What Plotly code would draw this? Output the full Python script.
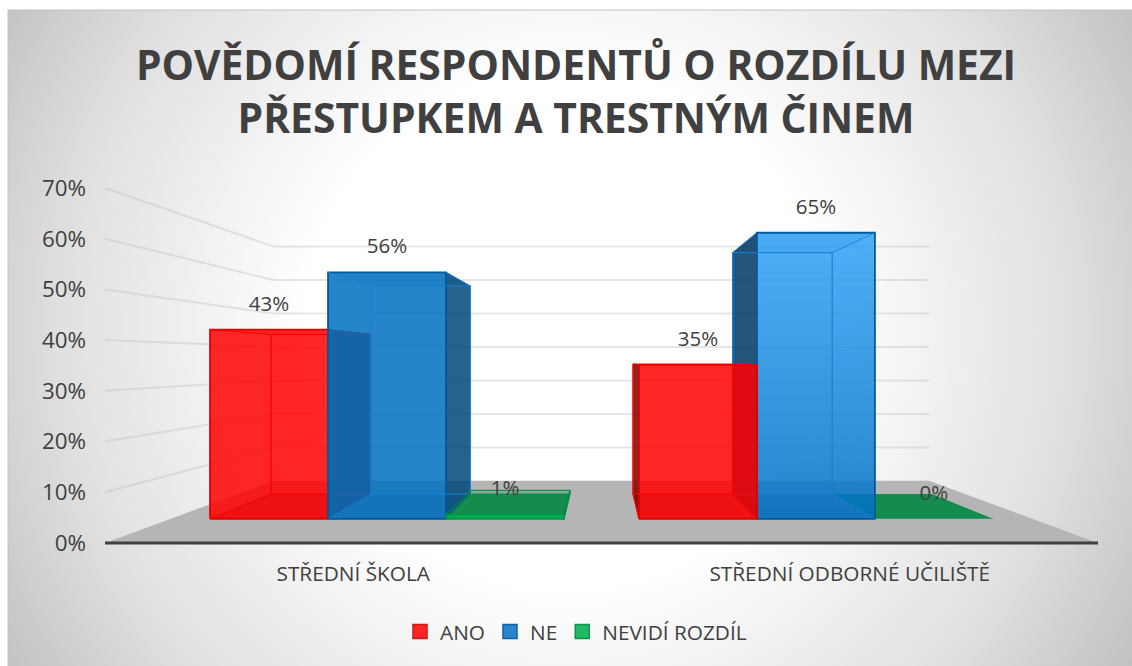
import base64
import plotly.graph_objects as go

# ---- data ----
categories = ["STŘEDNÍ ŠKOLA", "STŘEDNÍ ODBORNÉ UČILIŠTĚ"]
ano = [43, 35]
ne = [56, 65]
nevidi = [1, 0]
series_names = ["ANO", "NE", "NEVIDÍ ROZDÍL"]
y_ticks = [0, 10, 20, 30, 40, 50, 60, 70]
title_lines = ["POVĚDOMÍ RESPONDENTŮ O ROZDÍLU MEZI", "PŘESTUPKEM A TRESTNÝM ČINEM"]

# ---- perspective model (category units on x, percent on y) ----
CX, VY = 1.0, 36.0          # vanishing point
S_BACK = 0.66               # scale of the back wall
S_BAR_F, S_BAR_B = 0.868, 0.7326   # scale of bars' front / back plane
BAR_W = 0.2738              # width of one bar in category units
GAPS = [0.0917, 0.0868]     # gap at the category's left edge
LABEL_LIFT = 4.75           # data label centre above the bar's front top edge
Y_MIN = -1                  # small room below 0 so the axis line is not clipped


def proj(u, v, s):
    return CX + s * (u - CX), VY + s * (v - VY)


def poly(points):
    xs, ys = zip(*points)
    return list(xs) + [xs[0]], list(ys) + [ys[0]]


STYLE = {
    "ANO": dict(front="rgba(255,0,0,0.85)", back="rgba(255,0,0,0.02)", bottom="rgba(200,0,0,0.30)",
                side="rgba(120,0,0,0.85)", top="rgba(255,0,0,0.05)", edge="rgba(225,0,0,1)",
                inner="rgba(250,0,0,0.95)", shade="rgba(170,0,0,0.09)"),
    "NE": dict(front="rgba(0,112,192,0.85)", back="rgba(0,112,192,0.02)", bottom="rgba(0,80,160,0.20)",
               side="rgba(0,55,100,0.85)", top="rgba(0,70,130,0.15)", edge="rgba(0,88,155,1)",
               inner="rgba(20,130,215,0.85)", shade="rgba(0,70,140,0.06)"),
    "NEVIDÍ ROZDÍL": dict(front="rgba(0,176,80,0.85)", back="rgba(0,135,65,0.02)", bottom="rgba(0,135,65,0.85)",
                          side="rgba(0,110,55,0.85)", top="rgba(0,135,65,0.25)", edge="rgba(0,150,72,1)",
                          inner="rgba(0,140,68,0.85)", shade="rgba(0,0,0,0)"),
}
LEGEND_FILL = {"ANO": ("#ff2525", "#c81818"), "NE": ("#2a84cc", "#14609f"), "NEVIDÍ ROZDÍL": ("#22b864", "#12934c")}

fig = go.Figure()


def face(points, fill, line, width=1.3, gradient=None):
    x, y = poly(points)
    kw = dict(fillgradient=gradient) if gradient else dict(fillcolor=fill)
    fig.add_trace(go.Scatter(x=x, y=y, mode="lines", fill="toself", line=dict(color=line, width=width),
                             hoverinfo="skip", showlegend=False, **kw))


def stroke(points, color, width):
    x, y = zip(*points)
    fig.add_trace(go.Scatter(x=list(x), y=list(y), mode="lines", line=dict(color=color, width=width),
                             hoverinfo="skip", showlegend=False))


# ---- walls and floor ----
for t in y_ticks:
    bx, by = proj(0, t, S_BACK)
    ex, _ = proj(2, t, S_BACK)
    if t > 0:
        stroke([(0, t), (bx, by), (ex, by)], "rgba(190,190,190,0.38)", 2)
face([proj(0, 0, 1), proj(2, 0, 1), proj(2, 0, S_BACK), proj(0, 0, S_BACK)], "#b5b5b5", "rgba(0,0,0,0)", 0)


def bar(cat, pos, value, name, gradient=None, side=None):
    st = STYLE[name]
    u0 = cat + GAPS[cat] + pos * BAR_W
    u1 = u0 + BAR_W
    f, b = S_BAR_F, S_BAR_B
    fbl, fbr, ftl, ftr = proj(u0, 0, f), proj(u1, 0, f), proj(u0, value, f), proj(u1, value, f)
    bbl, bbr, btl, btr = proj(u0, 0, b), proj(u1, 0, b), proj(u0, value, b), proj(u1, value, b)
    face([bbl, bbr, btr, btl], st["back"], "rgba(0,0,0,0)", 0)
    face([fbl, fbr, bbr, bbl], st["bottom"], "rgba(0,0,0,0)", 0)
    face([ftl, ftr, btr, btl], st["top"], "rgba(0,0,0,0)", 0)
    # the side wall turned to the viewer is dark, the other one is seen through the front
    outer = [fbr, bbr, btr, ftr] if u1 < CX else [fbl, bbl, btl, ftl]
    face(outer, side or st["side"], st["edge"], 1.0 if value > 0 else 0)
    if value > 0:
        face([fbl, fbr, ftr, ftl], st["front"], st["edge"], 1.8, gradient)
        face([fbl, fbr, bbr, bbl], st["shade"], "rgba(0,0,0,0)", 0)
        # far edges showing through the translucent front
        stroke([btl, btr, bbr, bbl, btl], st["inner"], 1.4)
        stroke([ftl, btl], st["inner"], 1.0)
        stroke([ftr, btr], st["inner"], 1.0)
        stroke([fbl, bbl], st["inner"], 1.0)
        stroke([fbr, bbr], st["inner"], 1.0)


ne_gradient = dict(type="vertical",
                   colorscale=[[0, "rgba(0,112,195,0.85)"], [1, "rgba(50,162,246,0.85)"]])

# first category: painted red, blue, green; second: green, blue, red
vals = dict(zip(series_names, [ano, ne, nevidi]))
for i, name in enumerate(series_names):
    bar(0, i, vals[name][0], name, side="rgba(0,70,120,0.85)" if name == "NE" else None)
for i, name in reversed(list(enumerate(series_names))):
    bar(1, i, vals[name][1], name, ne_gradient if name == "NE" else None)

# ---- axis line ----
stroke([(0, 0), (2, 0)], "#404040", 3)

# ---- data labels ----
lx, ly, lt = [], [], []
for c in range(2):
    for i, name in enumerate(series_names):
        u = c + GAPS[c] + (i + 0.5) * BAR_W
        px, py = proj(u, vals[name][c], S_BAR_F)
        lx.append(px)
        ly.append(py + LABEL_LIFT)
        lt.append(f"{vals[name][c]}%")
fig.add_trace(go.Scatter(x=lx, y=ly, mode="text", text=lt, textposition="middle center",
                         textfont=dict(size=20.5, color="#404040", family="Open Sans"),
                         hoverinfo="skip", showlegend=False, cliponaxis=False))

# ---- legend ----
for name in series_names:
    fc, lc = LEGEND_FILL[name]
    fig.add_trace(go.Scatter(x=[None], y=[None], mode="markers", name=name,
                             marker=dict(symbol="square", size=14, color=fc, line=dict(color=lc, width=1.5))))

W, H = 1132, 666
PL, PR, PT, PB = 105, 1098, 188, 548
svg = (f'<svg xmlns="http://www.w3.org/2000/svg" width="{W}" height="{H}">'
       '<defs><radialGradient id="g" gradientUnits="userSpaceOnUse" cx="566" cy="330" r="680">'
       '<stop offset="0.38" stop-color="#ffffff"/><stop offset="0.74" stop-color="#e0e0e0"/>'
       '<stop offset="1" stop-color="#bdbdbd"/></radialGradient></defs>'
       '<rect x="8" y="10" width="1130" height="662" fill="url(#g)" stroke="#c4c4c4" stroke-width="1"/></svg>')
uri = "data:image/svg+xml;base64," + base64.b64encode(svg.encode()).decode()

fig.update_layout(
    width=W, height=H, autosize=False, paper_bgcolor="white", plot_bgcolor="rgba(0,0,0,0)",
    margin=dict(l=PL, r=W - PR, t=PT, b=H - PB),
    images=[dict(source=uri, xref="paper", yref="paper", x=-PL / (PR - PL), y=1 + PT / (PB - PT),
                 sizex=W / (PR - PL), sizey=H / (PB - PT), xanchor="left", yanchor="top", layer="below",
                 sizing="stretch")],
    title=dict(text="<br>".join(title_lines), x=576 / W, xanchor="center", y=1 - 80 / H, yanchor="top",
               font=dict(family="Open Sans", size=40.8, color="#404040", weight="bold")),
    xaxis=dict(range=[0, 2], tickmode="array", tickvals=[0.5, 1.5], ticktext=categories, showgrid=False,
               zeroline=False, showline=False, ticks="", ticklabelstandoff=11,
               tickfont=dict(family="Open Sans", size=20.8, color="#404040")),
    yaxis=dict(range=[Y_MIN, 70], tickmode="array", tickvals=y_ticks, ticktext=[f"{t}%" for t in y_ticks],
               showgrid=False, zeroline=False, showline=False, ticks="", ticklabelstandoff=18,
               tickfont=dict(family="Open Sans", size=22.4, color="#404040")),
    legend=dict(orientation="h", x=576 / W, xref="container", xanchor="center", y=1 - 632 / H, yref="container",
                yanchor="middle", font=dict(family="Open Sans", size=20.8, color="#404040"),
                bgcolor="rgba(0,0,0,0)", traceorder="normal"),
)
fig.write_html("out.html", config=dict(displayModeBar=False),
               post_script="document.body.style.margin='0';document.body.style.overflow='hidden';")
